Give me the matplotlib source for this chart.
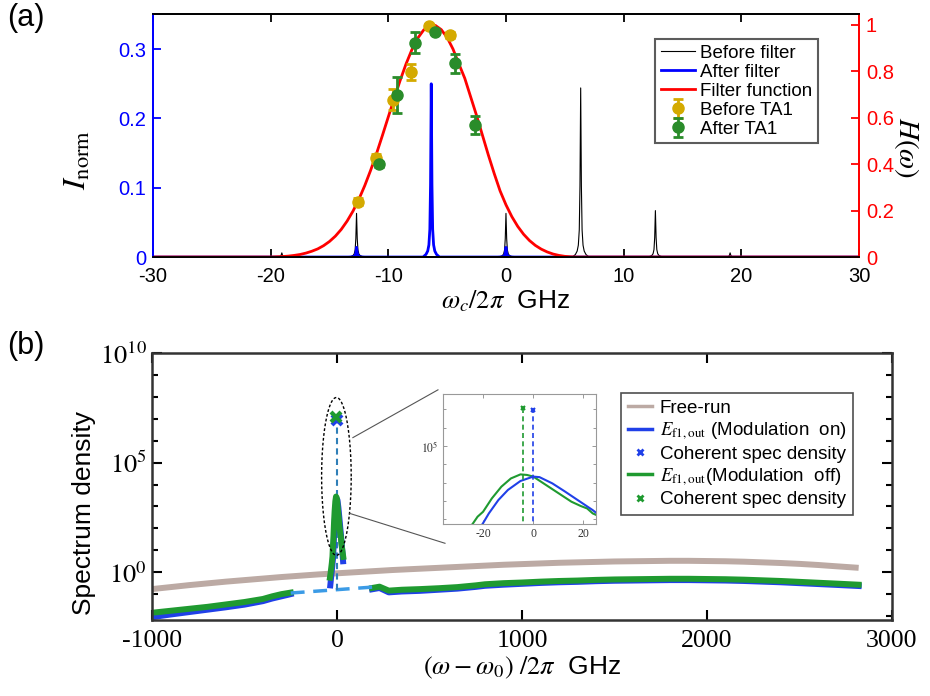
import numpy as np
import matplotlib
matplotlib.use('Agg')
import matplotlib.pyplot as plt
from matplotlib.ticker import FixedLocator, FuncFormatter, NullFormatter

plt.rcParams['font.family'] = ['Liberation Sans', 'DejaVu Sans']
plt.rcParams['mathtext.fontset'] = 'stix'
plt.rcParams['axes.unicode_minus'] = False

# ---------------- panel (a) data ----------------
# comb lines (GHz) and their normalised intensities
peak_centers = [-19.05, -12.7, -6.35, 0.0, 6.35, 12.7, 19.05]
before_heights = [0.006, 0.063, 0.24, 0.063, 0.244, 0.067, 0.006]
after_heights = [0.0, 0.014, 0.25, 0.014, 0.0, 0.0, 0.0]
# line profile (offset in GHz, relative height)
line_offsets = [-0.7, -0.45, -0.3, -0.2, -0.12, -0.06, 0.0, 0.06, 0.12, 0.2, 0.3, 0.45, 0.7]
line_shape = [0.0, 0.015, 0.035, 0.07, 0.16, 0.42, 1.0, 0.42, 0.16, 0.07, 0.035, 0.015, 0.0]

# filter function H(w)
filter_x = np.arange(-20, 7.5, 0.5)
filter_h = [0.0, 0.001, 0.002, 0.004, 0.007, 0.011, 0.017, 0.025, 0.035, 0.049,
            0.067, 0.09, 0.119, 0.155, 0.198, 0.249, 0.308, 0.374, 0.446, 0.524,
            0.604, 0.683, 0.76, 0.831, 0.893, 0.943, 0.978, 0.997, 0.998, 0.98,
            0.946, 0.896, 0.832, 0.77, 0.69, 0.61, 0.525, 0.44, 0.36, 0.285,
            0.225, 0.174, 0.132, 0.098, 0.071, 0.05, 0.034, 0.022, 0.013, 0.007,
            0.003, 0.001, 0.0, 0.0, 0.0]

before_ta1_x = [-12.6, -11.05, -9.64, -8.08, -6.52, -4.77]
before_ta1_h = [0.238, 0.425, 0.677, 0.796, 0.996, 0.957]
before_ta1_err = [0.015, 0.02, 0.045, 0.035, 0.01, 0.012]
after_ta1_x = [-10.77, -9.24, -7.74, -6.04, -4.34, -2.64]
after_ta1_h = [0.40, 0.698, 0.924, 0.971, 0.835, 0.569]
after_ta1_err = [0.01, 0.079, 0.045, 0.01, 0.041, 0.037]

# ---------------- panel (b) data (log10 of spectrum density) ----------------
free_x = [-1000, -900, -800, -700, -600, -500, -400, -300, -200, -100, 0, 100, 200,
          300, 400, 500, 600, 700, 800, 900, 1000, 1100, 1200, 1300, 1400, 1500,
          1600, 1700, 1800, 1900, 2000, 2100, 2200, 2300, 2400, 2500, 2600, 2700, 2820]
free_log = [-0.77, -0.68, -0.59, -0.51, -0.43, -0.36, -0.29, -0.22, -0.16, -0.1,
            -0.05, 0.0, 0.05, 0.1, 0.14, 0.18, 0.22, 0.26, 0.3, 0.34, 0.37, 0.4,
            0.43, 0.45, 0.47, 0.49, 0.5, 0.51, 0.52, 0.52, 0.51, 0.5, 0.48, 0.45,
            0.42, 0.38, 0.33, 0.27, 0.2]

left_x = [-1000, -900, -800, -700, -600, -500, -400, -350, -300, -250]
left_on_log = [-2.05, -1.93, -1.82, -1.71, -1.6, -1.48, -1.32, -1.2, -1.1, -1.0]
left_off_log = [-1.85, -1.76, -1.67, -1.58, -1.47, -1.36, -1.22, -1.1, -1.0, -0.93]

right_x = [190, 230, 280, 350, 450, 550, 650, 750, 800, 900, 1000, 1100, 1200, 1300,
           1400, 1500, 1600, 1700, 1800, 1900, 2000, 2100, 2200, 2300, 2400, 2500,
           2600, 2700, 2820]
right_off_log = [-0.72, -0.66, -0.84, -0.8, -0.77, -0.73, -0.68, -0.6, -0.55, -0.5,
                 -0.47, -0.43, -0.4, -0.38, -0.35, -0.33, -0.32, -0.31, -0.3, -0.3,
                 -0.31, -0.32, -0.34, -0.37, -0.4, -0.44, -0.48, -0.52, -0.57]
right_on_log = [-0.78, -0.72, -0.92, -0.88, -0.85, -0.8, -0.75, -0.67, -0.62, -0.57,
                -0.53, -0.49, -0.46, -0.44, -0.41, -0.39, -0.38, -0.37, -0.36, -0.36,
                -0.37, -0.38, -0.4, -0.43, -0.46, -0.5, -0.54, -0.58, -0.63]

# gap bridged by dashed line
gap_x = [-250, 190]
gap_log = [-0.95, -0.68]

# central spike (same data as in the inset)
spike_off_x = [-38, -33, -28, -24.3, -22.2, -20, -16.5, -12.7, -8.9, -5.1, -2.5, 0,
               5.1, 10.1, 15.2, 19, 21.5, 23.7, 29, 34]
spike_off_log = [-0.25, 0.05, 0.4, 0.72, 1.14, 1.41, 2.14, 2.78, 3.23, 3.45, 3.42, 3.33,
                 2.87, 2.42, 1.96, 1.72, 1.59, 1.32, 1.0, 0.7]
spike_on_x = [-36, -30, -25, -20.3, -17.7, -13.9, -10.1, -5.1, 0, 2.5, 7.6, 12.7,
              17.7, 23.7, 29, 33]
spike_on_log = [-0.6, -0.1, 0.3, 0.72, 1.32, 2.05, 2.6, 3.09, 3.33, 3.3, 2.96, 2.51,
                2.05, 1.5, 0.95, 0.5]

# coherent spectral density
coh_on_x, coh_on_log = 0.0, 6.95
coh_off_x, coh_off_log = -4.0, 7.1

c_black = 'black'
c_blue_a = '#0000ff'
c_red = '#ff0000'
c_gold = '#d4aa00'
c_green_a = '#2a8c2a'
c_gray = '#bcaaa4'
c_blue = '#2040e8'
c_green = '#1f9a30'
c_dash = '#3b9be6'

fig = plt.figure(figsize=(9.3, 6.96), dpi=100)

# ======================= (a) =======================
ax = fig.add_axes([0.1645, 0.6307, 0.7591, 0.3491])
ax2 = ax.twinx()


def comb(heights):
    xs, ys = [-30.0], [0.0]
    for c, h in zip(peak_centers, heights):
        for o, s in zip(line_offsets, line_shape):
            xs.append(c + o)
            ys.append(h * s)
    xs.append(30.0)
    ys.append(0.0)
    return xs, ys


bx, by = comb(before_heights)
axx, ayy = comb(after_heights)
l_before, = ax.plot(bx, by, color=c_black, lw=0.8, label='Before filter')
l_after, = ax.plot(axx, ayy, color=c_blue_a, lw=2.0, label='After filter')

fx = [-30.0] + list(filter_x) + [30.0]
fh = [0.0] + list(filter_h) + [0.0]
l_filter, = ax2.plot(fx, fh, color=c_red, lw=2.0, label='Filter function')
e_before = ax2.errorbar(before_ta1_x, before_ta1_h, yerr=before_ta1_err, fmt='o',
                        color=c_gold, ms=8, elinewidth=2, capsize=3.5, capthick=2,
                        label='Before TA1')
e_after = ax2.errorbar(after_ta1_x, after_ta1_h, yerr=after_ta1_err, fmt='o',
                       color=c_green_a, ms=8, elinewidth=2, capsize=3.5, capthick=2,
                       label='After TA1')

ax.set_xlim(-30, 30)
ax.set_ylim(0, 0.3506)
ax2.set_ylim(0, 1.047)
ax.set_xticks([-30, -20, -10, 0, 10, 20, 30])
ax.set_yticks([0, 0.1, 0.2, 0.3])
ax.set_yticklabels(['0', '0.1', '0.2', '0.3'])
ax2.set_yticks([0, 0.2, 0.4, 0.6, 0.8, 1.0])
ax2.set_yticklabels(['0', '0.2', '0.4', '0.6', '0.8', '1'])

ax.tick_params(axis='x', direction='in', top=True, length=6, width=1.3,
               labelsize=14.5, pad=7)
ax.tick_params(axis='y', direction='in', length=6, width=1.3, colors=c_blue_a,
               labelsize=14.5, pad=5)
ax2.tick_params(axis='y', direction='in', length=6, width=1.3, colors=c_red,
                labelsize=14.5, pad=5)
for a in (ax, ax2):
    for s in a.spines.values():
        s.set_linewidth(1.3)
ax2.spines['left'].set_color(c_blue_a)
ax2.spines['right'].set_color(c_red)
ax.spines['left'].set_color(c_blue_a)
ax.spines['right'].set_color(c_red)

ax.set_xlabel(r'$\omega_c/2\pi$  GHz', fontsize=19, labelpad=2)
ax.set_ylabel(r'$I_{\mathrm{norm}}$', fontsize=23)
ax.yaxis.set_label_coords(-0.085, 0.40)
ax2.set_ylabel(r'$H(\omega)$', fontsize=21, rotation=270, va='center', ha='center')
ax2.yaxis.set_label_coords(1.068, 0.45)

leg = ax2.legend([l_before, l_after, l_filter, e_before, e_after],
                 ['Before filter', 'After filter', 'Filter function', 'Before TA1',
                  'After TA1'],
                 loc='upper right', bbox_to_anchor=(0.8796, 0.944),
                 bbox_transform=fig.transFigure, borderaxespad=0, fontsize=13.5,
                 frameon=True, fancybox=False, labelspacing=0.1, handlelength=1.85,
                 handletextpad=0.25, borderpad=0.3)
leg.get_frame().set_edgecolor('#333333')
leg.get_frame().set_linewidth(1.5)

fig.text(0.008, 0.995, '(a)', fontsize=22, va='top', ha='left')

# ======================= (b) =======================
bx_ = fig.add_axes([0.1634, 0.1092, 0.7957, 0.3836])


def p10(vals):
    return [10.0 ** v for v in vals]


bx_.plot(free_x, p10(free_log), color=c_gray, lw=4.3, solid_capstyle='butt')
bx_.plot(left_x, p10(left_on_log), color=c_blue, lw=4.3)
bx_.plot(left_x, p10(left_off_log), color=c_green, lw=4.3)
bx_.plot(right_x, p10(right_on_log), color=c_blue, lw=4.3)
bx_.plot(right_x, p10(right_off_log), color=c_green, lw=4.3)
bx_.plot(gap_x, p10(gap_log), color=c_dash, lw=2.5, ls=(0, (4, 2.5)))
bx_.plot([coh_on_x, coh_on_x], [10 ** -0.8, 10 ** coh_on_log], color='#2f7fb8', lw=1.5,
         ls=(0, (3, 2)))
bx_.plot(spike_on_x, p10(spike_on_log), color=c_blue, lw=4.3)
bx_.plot(spike_off_x, p10(spike_off_log), color=c_green, lw=4.3)
bx_.plot([coh_on_x], [10 ** coh_on_log], 'x', color=c_blue, ms=7, mew=3)
bx_.plot([coh_off_x], [10 ** coh_off_log], 'x', color=c_green, ms=7, mew=3)

# dashed ellipse around the spike (drawn in log space)
t = np.linspace(0, 2 * np.pi, 200)
bx_.plot(-3 + 80 * np.cos(t), 10 ** (4.37 + 3.6 * np.sin(t)), color='black', lw=1.0,
         ls=(0, (2, 1.5)))
# zoom connector lines
bx_.plot([86, 546], [10 ** 6.14, 10 ** 8.32], color='#555555', lw=0.8, clip_on=False)
bx_.plot([70, 584], [10 ** 2.68, 10 ** 1.32], color='#555555', lw=0.8, clip_on=False)

bx_.set_yscale('log')
bx_.set_xlim(-1000, 3000)
bx_.set_ylim(10 ** -2.18, 10 ** 10)
bx_.set_xticks([-1000, 0, 1000, 2000, 3000])
bx_.yaxis.set_major_locator(FixedLocator([1e0, 1e5, 1e10]))
bx_.yaxis.set_minor_locator(FixedLocator([10.0 ** k for k in range(-2, 10)
                                          if k not in (0, 5)]))
bx_.yaxis.set_major_formatter(FuncFormatter(lambda v, p: r'$10^{%d}$' % round(np.log10(v))))
bx_.yaxis.set_minor_formatter(NullFormatter())
bx_.tick_params(which='both', direction='in', top=True, right=True, width=1.5)
bx_.tick_params(which='major', length=7)
bx_.tick_params(which='minor', length=4)
bx_.tick_params(axis='y', labelsize=19)
bx_.tick_params(axis='x', labelsize=18.5, pad=7)
for lab in bx_.get_xticklabels():
    lab.set_family('Liberation Serif')
for s in bx_.spines.values():
    s.set_linewidth(1.8)
    s.set_color('#333333')

bx_.set_xlabel(r'$(\omega-\omega_0)\ /2\pi$  GHz', fontsize=19, labelpad=2)
bx_.set_ylabel('Spectrum density', fontsize=19)
bx_.yaxis.set_label_coords(-0.075, 0.40)

# legend of (b)
h1, = bx_.plot([], [], color=c_gray, lw=2.5)
h2, = bx_.plot([], [], color=c_blue, lw=2.5)
h3, = bx_.plot([], [], 'x', color=c_blue, ms=5, mew=2)
h4, = bx_.plot([], [], color=c_green, lw=2.5)
h5, = bx_.plot([], [], 'x', color=c_green, ms=5, mew=2)
legb = bx_.legend([h1, h2, h3, h4, h5],
                  ['Free-run', r'$E_{\mathrm{f1,out}}$ (Modulation  on)',
                   'Coherent spec density', r'$E_{\mathrm{f1,out}}$(Modulation  off)',
                   'Coherent spec density'],
                  loc='upper right', bbox_to_anchor=(0.9172, 0.4353),
                  bbox_transform=fig.transFigure, borderaxespad=0, fontsize=13.5,
                  frameon=True, fancybox=False, labelspacing=0.2, handlelength=1.3,
                  handletextpad=0.4, borderpad=0.35)
legb.get_frame().set_edgecolor('#222222')
legb.get_frame().set_linewidth(1.2)

fig.text(0.008, 0.525, '(b)', fontsize=22, va='top', ha='left')

# ======================= inset =======================
ins = fig.add_axes([0.4763, 0.2471, 0.1645, 0.1868])
ins.plot(spike_off_x, p10(spike_off_log), color=c_green, lw=1.5)
ins.plot(spike_on_x, p10(spike_on_log), color=c_blue, lw=1.5)
ins.plot([coh_off_x, coh_off_x], [1, 10 ** coh_off_log], color=c_green, lw=1.2,
         ls=(0, (3, 2)))
ins.plot([coh_on_x, coh_on_x], [1, 10 ** coh_on_log], color=c_blue, lw=1.2,
         ls=(0, (3, 2)))
ins.plot([coh_off_x], [10 ** coh_off_log], 'x', color=c_green, ms=3, mew=1.5)
ins.plot([coh_on_x], [10 ** coh_on_log], 'x', color=c_blue, ms=3, mew=1.5)
ins.set_yscale('log')
ins.set_xlim(-36, 25)
ins.set_ylim(10 ** 0.74, 10 ** 7.84)
ins.set_xticks([-20, 0, 20])
ins.yaxis.set_major_locator(FixedLocator([1e5]))
ins.yaxis.set_minor_locator(FixedLocator([10.0 ** k for k in range(1, 8) if k != 5]))
ins.yaxis.set_major_formatter(FuncFormatter(lambda v, p: r'$10^{5}$'))
ins.yaxis.set_minor_formatter(NullFormatter())
ins.tick_params(which='both', direction='in', top=True, right=True, width=0.6,
                colors='#888888', labelcolor='#333333', labelsize=8.5, pad=3)
ins.tick_params(which='major', length=3)
ins.tick_params(which='minor', length=2)
for lab in ins.get_xticklabels():
    lab.set_family('Liberation Serif')
for s in ins.spines.values():
    s.set_linewidth(0.8)
    s.set_color('#999999')

fig.savefig('out.png', dpi=100)
